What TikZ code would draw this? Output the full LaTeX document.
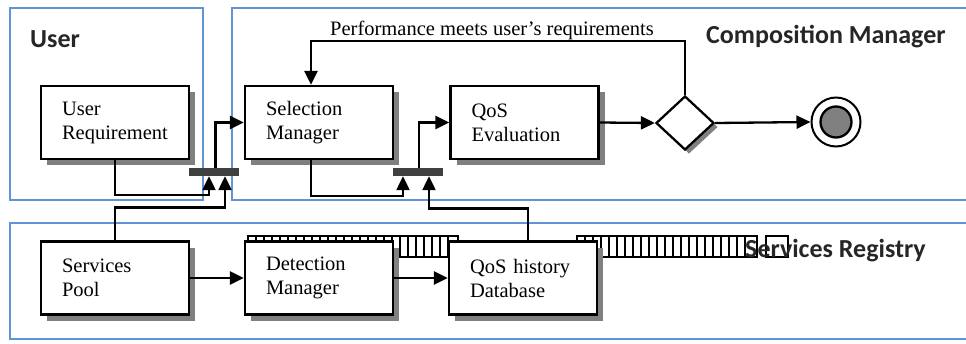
\documentclass[tikz,border=0pt]{standalone}
\usepackage{fontspec}
\setmainfont{Liberation Serif}
\newfontfamily\headfont{Carlito}
\usetikzlibrary{arrows.meta,shapes.geometric,shadows,calc}

\definecolor{panelblue}{RGB}{98,148,212}
\definecolor{shadowgray}{RGB}{128,128,128}
\definecolor{bargray}{RGB}{64,64,64}

\begin{document}
\begin{tikzpicture}[x=1pt,y=-1pt,
  panel/.style={draw=panelblue,line width=1.6pt},
  title/.style={font=\headfont\bfseries\fontsize{26}{30}\selectfont,text=black!85,anchor=base west,inner sep=0pt},
  box/.style={draw,line width=2.3pt,fill=white,minimum width=148pt,minimum height=73pt,text width=106pt,inner xsep=21pt,align=left,font=\fontsize{20.5}{24}\selectfont,drop shadow={shadow xshift=6pt,shadow yshift=-6pt,fill=shadowgray,opacity=1}},
  syncbar/.style={fill=bargray,minimum width=50pt,minimum height=8pt,inner sep=0pt},
  strip/.style={line width=1.1pt},
  conn/.style={line width=2.3pt,-{Triangle[length=14pt,width=13pt]}}]
\clip (0,0) rectangle (966,343);

% panels
\draw[panel] (10,8) rectangle (203,200);
\draw[panel] (232,8) rectangle (980,200);
\draw[panel] (10,223) rectangle (980,339);

% registry strips
\draw[strip] (248,236) rectangle (458,257);
\foreach \x in {256,264,...,452} \draw[strip] (\x,236) -- (\x,257);
\draw[strip] (577,236) rectangle (757,257);
\foreach \x in {585,593,...,750} \draw[strip] (\x,236) -- (\x,257);
\draw[strip] (766,236) rectangle (788,257);

\node[title] (tuser) at (30,47) {User};
\node[title] (tcomp) at (706,43) {Composition Manager};

% boxes
\node[box] (ureq) at (115,122.5) {User\\Requirement};
\node[box] (selm) at (319,122.5) {Selection\\Manager};
\node[box] (qose) at (524.5,122.5) {QoS\\Evaluation};
\node[box] (pool) at (115,278) {Services\\Pool};
\node[box] (detm) at (319,278) {Detection\\Manager};
\node[box] (qdb) at (523,278) {QoS history\\Database};

\node[title] (treg) at (745,257) {Services Registry};

\node[draw,diamond,line width=2.3pt,fill=white,minimum width=58pt,minimum height=54pt,inner sep=0pt,
  drop shadow={shadow xshift=4pt,shadow yshift=-4pt,fill=shadowgray,opacity=1}] (dec) at (685,123) {};
\node[circle,draw,line width=2pt,fill=white,minimum size=49pt,inner sep=0pt] (fin) at (836,122) {};
\node[circle,draw,line width=2.3pt,fill=shadowgray,minimum size=31pt,inner sep=0pt] (finin) at (fin) {};

\node[syncbar] (bar1) at (214,172) {};
\node[syncbar] (bar2) at (418,172) {};

% connectors
\draw[conn] (ureq.south) -- ++(0,35) -| ($(bar1.south)+(-5,0)$);
\draw[conn] (pool.north) -- ++(0,-33) -| ($(bar1.south)+(11,0)$);
\draw[conn] ($(bar1.north)+(1.5,0)$) |- (selm.west);
\draw[conn] ($(selm.south)+(-8,0)$) -- ++(0,36) -| ($(bar2.south)+(-15,0)$);
\draw[conn] ($(qdb.north)+(5,0)$) -- ++(0,-32) -| ($(bar2.south)+(11,0)$);
\draw[conn] ($(bar2.north)+(1,0)$) |- (qose.west);
\draw[conn] (qose.east) -- (dec.west);
\draw[conn] (dec.east) -- (fin.west);
\draw[conn] (dec.north) -- ++(0,-54) -| ($(selm.north)+(-8,0)$);
\draw[conn] (pool.east) -- (detm.west);
\draw[conn] (detm.east) -- (qdb.west);

\node[font=\fontsize{20.5}{24}\selectfont] (perf) at (492,30) {Performance meets user's requirements};
\end{tikzpicture}
\end{document}
